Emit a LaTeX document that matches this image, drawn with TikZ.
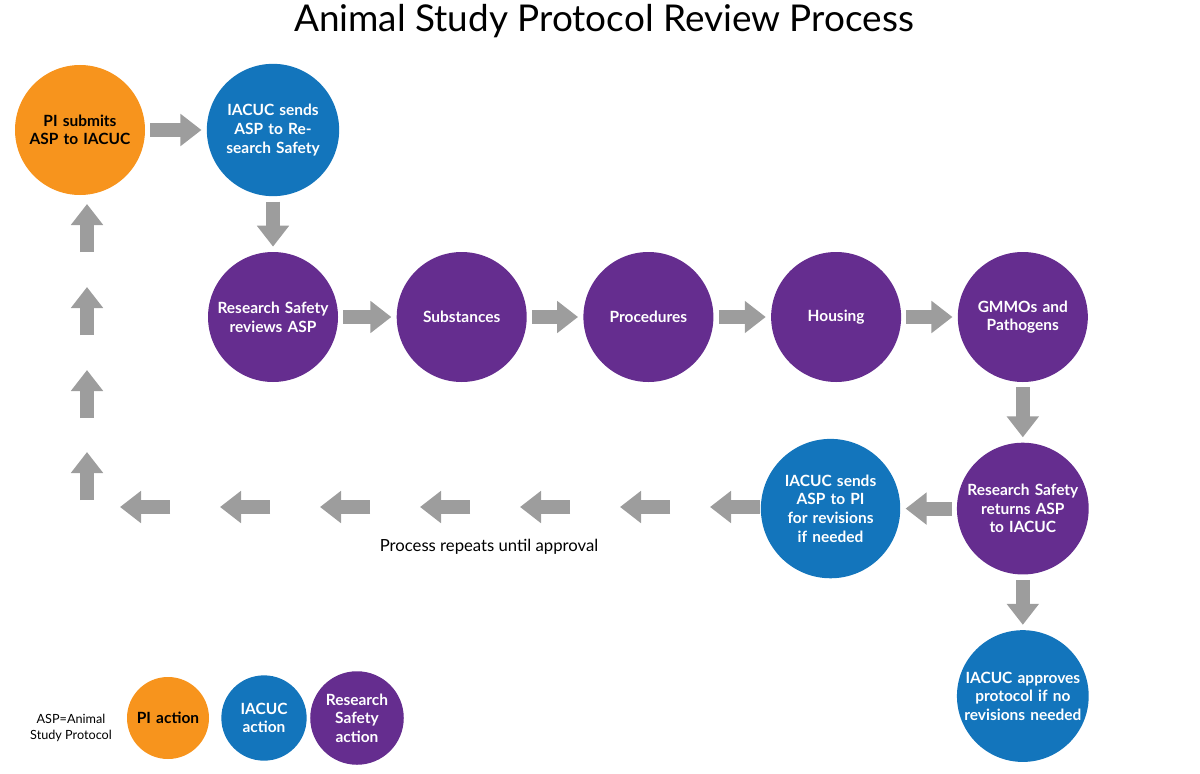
\documentclass[tikz,border=0pt]{standalone}
\usepackage{fontspec}
\setmainfont{Lato}
\usetikzlibrary{positioning, calc, arrows.meta}
\definecolor{piorange}{HTML}{F7941D}
\definecolor{iablue}{HTML}{1375BC}
\definecolor{rspurple}{HTML}{652D8F}
\definecolor{arrgray}{HTML}{9D9D9D}
\tikzset{
    stage/.style = {circle, minimum size=2.6cm, inner sep=0pt, text centered,
        text width=2.45cm, font=\fontsize{8.8}{10.6}\selectfont\bfseries, white},
    pi_act/.style = {stage, fill=piorange, text=black},
    iacuc_act/.style = {stage, fill=iablue},
    rs_act/.style = {stage, fill=rspurple},
    key/.style = {stage, minimum size=1.64cm, text width=1.6cm},
    blk/.style = {draw=arrgray, line width=0.28cm,
        -{Triangle[width=0.62cm, length=0.42cm]}, shorten <=0.1cm, shorten >=0.1cm},
}
\begin{document}
\begin{tikzpicture}
        \useasboundingbox (0,0) rectangle (24,15.46);
        \node [font=\fontsize{21}{24}\selectfont] (title) at (12.08,15.04) {Animal Study Protocol Review Process};
        % top row
        \node [pi_act] (submit) at (1.6,12.86) {PI submits ASP to IACUC};
        \node [iacuc_act] (send) at (5.46,12.86) {IACUC sends ASP to Research Safety};
        % review row
        \node [rs_act] (review) at (5.46,9.12) {Research Safety reviews ASP};
        \node [rs_act, right=1.16cm of review] (subst) {Substances};
        \node [rs_act, right=1.12cm of subst] (proc) {Procedures};
        \node [rs_act, right=1.14cm of proc] (house) {Housing};
        \node [rs_act, right=1.12cm of house] (gmmo) {GMMOs and Pathogens};
        % return row
        \node [rs_act, below=1.2cm of gmmo] (return) {Research Safety returns ASP to IACUC};
        \node [iacuc_act, left=1.12cm of return] (revise) {IACUC sends ASP to PI for revisions if needed};
        \node [iacuc_act, below=1.1cm of return] (approve) {IACUC approves protocol if no revisions needed};
        \node [font=\fontsize{9.5}{11}\selectfont] (repeat) at (9.78,4.52) {Process repeats until approval};
        \draw [blk] (submit) -- (send);
        \draw [blk] (send) -- (review);
        \draw [blk] (review) -- (subst);
        \draw [blk] (subst) -- (proc);
        \draw [blk] (proc) -- (house);
        \draw [blk] (house) -- (gmmo);
        \draw [blk] (gmmo) -- (return);
        \draw [blk] (return) -- (revise);
        \draw [blk] (return) -- (approve);
        % loop back
        \foreach \x in {3.4,5.4,7.4,9.4,11.4,13.4,15.2}
            \draw [blk, shorten <=0pt, shorten >=0pt] (\x,5.32) -- ++(-1.0,0);
        \foreach \y in {5.46,7.1,8.76,10.42}
            \draw [blk, shorten <=0pt, shorten >=0pt] (1.74,\y) -- ++(0,0.96);
        % legend
        \node [font=\fontsize{7.2}{8.8}\selectfont, align=center] (asp) at (1.42,0.9) {ASP=Animal\\Study Protocol};
        \node [key, fill=piorange, text=black] (kpi) at (3.36,1.1) {PI action};
        \node [key, fill=iablue] (kia) at (5.28,1.1) {IACUC action};
        \node [key, fill=rspurple] (krs) at (7.14,1.1) {Research Safety action};
\end{tikzpicture}
\end{document}
